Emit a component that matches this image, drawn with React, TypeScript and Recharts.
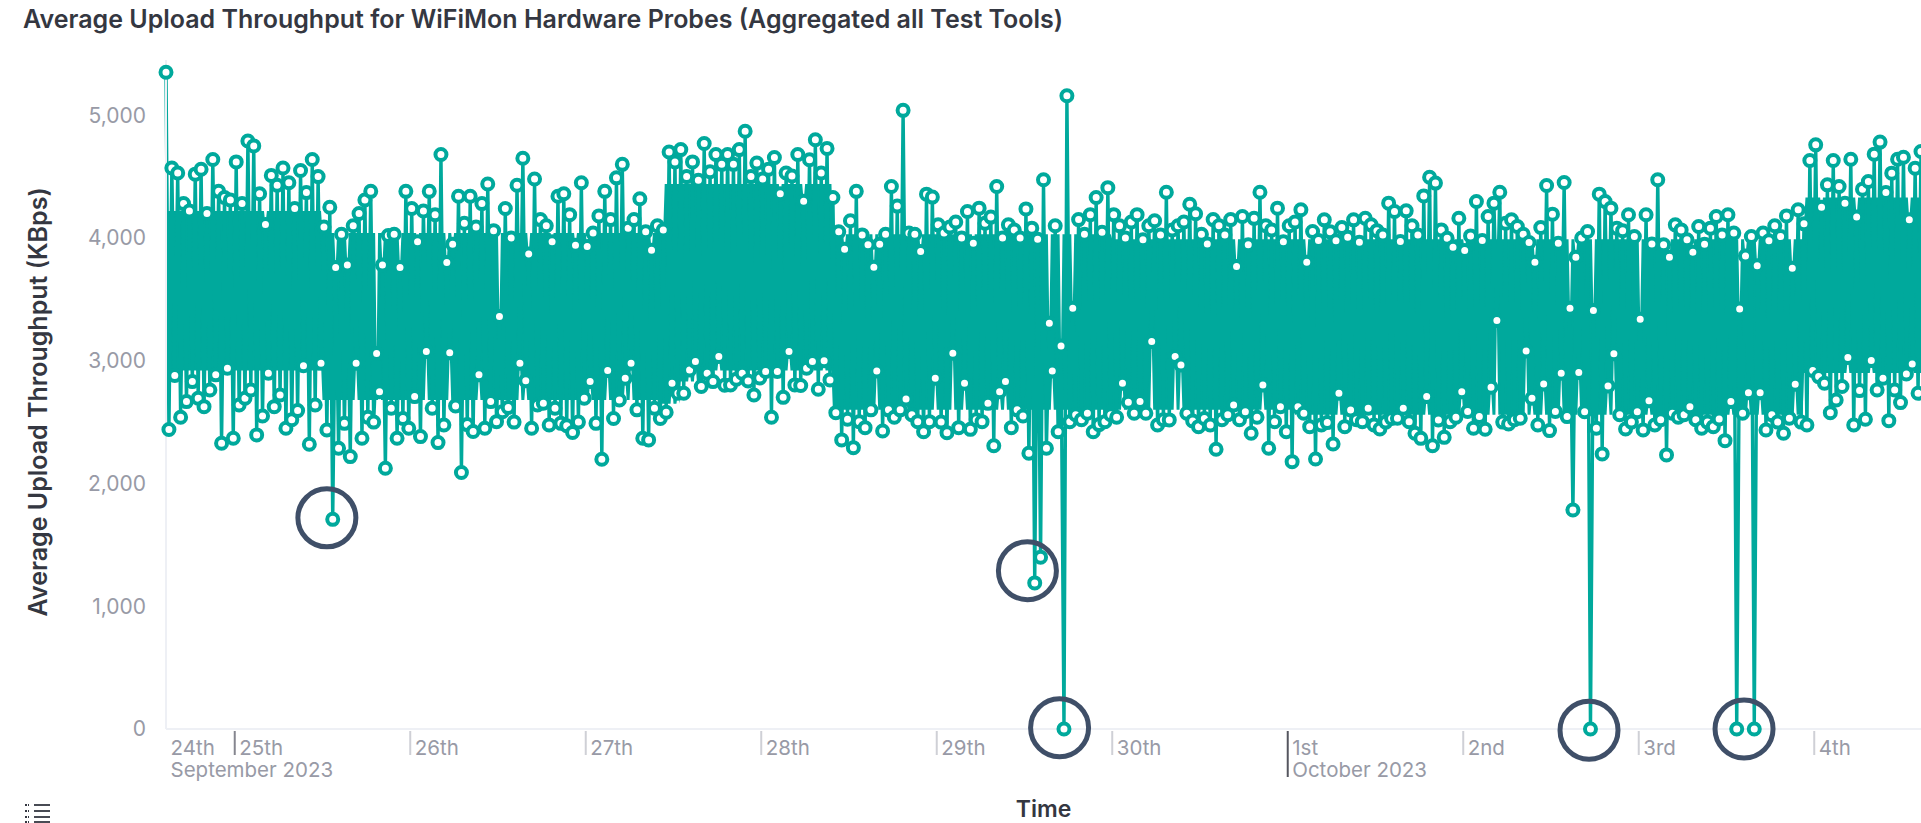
import { Area, ComposedChart, Line, ReferenceDot, XAxis, YAxis } from 'recharts';

const TEAL = '#00a99c';
const GREY = '#989aa6';
const DARK = '#343741';
const FONT = 'Inter, sans-serif';

// hours counted from 25 Sep 2023 00:00, readings alternate peak / dip every 24 min
const firstHour = -9.4;
const lastHour = 230.6;

const peaks = [
  // 24th
  5350, 4570, 4530, 4280, 4220, 4520, 4560, 4200, 4640, 4380, 4330, 4310,
  // 25th
  4620, 4280, 4790, 4750, 4360, 4110, 4510, 4430, 4570, 4450, 4240, 4550, 4370, 4640, 4500,
  4090, 4250, 3760, 4030, 3780, 4100, 4200, 4310, 4380, 3060, 3780, 4020, 4030, 3760, 4380,
  // 26th
  4240, 3970, 4220, 4380, 4190, 4680, 3800, 3950, 4340, 4120, 4340, 4090, 4280, 4440, 4060,
  3360, 4240, 4000, 4430, 4650, 3870, 4480, 4150, 4100, 3970, 4340, 4360, 4190, 3940, 4450,
  // 27th
  3930, 4040, 4180, 4380, 4150, 4490, 4600, 4080, 4150, 4320, 4050, 3900, 4100, 4065, 4700,
  4620, 4720, 4500, 4620, 4470, 4770, 4540, 4680, 4600, 4680, 4600, 4720, 4870, 4500, 4610,
  // 28th
  4480, 4560, 4655, 4360, 4530, 4505, 4680, 4300, 4637, 4800, 4530, 4730, 4330, 4050, 3908,
  4140, 4380, 4025, 3945, 3762, 3950, 4030, 4420, 4260, 5040, 4040, 4030, 3890, 4357, 4333,
  // 29th
  4107, 4040, 4090, 4130, 4000, 4216, 3958, 4243, 4120, 4170, 4420, 4000, 4107, 4065, 4000,
  4237, 4080, 3990, 4474, 3306, 4100, 3120, 5159, 3428, 4150, 4030, 4190, 4330, 4047, 4410,
  // 30th
  4190, 4100, 4000, 4130, 4190, 3985, 4100, 4140, 4025, 4373, 4065, 4100, 4130, 4275, 4197,
  4030, 3952, 4150, 4100, 4025, 4150, 3768, 4175, 3945, 4160, 4373, 4100, 4065, 4243, 3970,
  // 1st
  4100, 4130, 4230, 3803, 4053, 3980, 4148, 4050, 3977, 4085, 4007, 4148, 3966, 4161, 4107,
  4060, 4025, 4284, 4216, 3971, 4221, 4100, 4025, 4343, 4495, 4447, 4066, 3998, 3925, 4161,
  // 2nd
  3898, 4017, 4297, 3980, 4175, 4284, 4373, 4120, 4148, 4094, 4030, 3963, 3803, 4085, 4428,
  4194, 3958, 4452, 3428, 3844, 4000, 4053, 3409, 4357, 4297, 4243, 4080, 4060, 4189, 4012,
  // 3rd
  3338, 4189, 3952, 4474, 3944, 3844, 4107, 4066, 3985, 3884, 4094, 3950, 4080, 4175, 4025,
  4189, 4040, 3422, 3854, 4012, 3773, 4040, 3977, 4100, 4012, 4180, 3754, 4230, 4115, 4631,
  // 4th
  4759, 4251, 4433, 4631, 4420, 4284, 4642, 4170, 4398, 4460, 4683, 4781, 4370, 4528, 4642,
  4658, 4148, 4569, 4705,
];

const dips = [
  // 24th
  2440, 2880, 2540, 2667, 2830, 2694, 2626, 2762, 2885, 2328, 2939, 2369,
  // 25th
  2640, 2694, 2762, 2396, 2550, 2898, 2626, 2721, 2450, 2520, 2594, 2960, 2320, 2640, 2980,
  2436, 1708, 2287, 2490, 2219, 2980, 2369, 2540, 2500, 2748, 2124, 2613, 2369, 2530, 2450,
  // 26th
  2708, 2382, 3075, 2613, 2333, 2477, 3066, 2632, 2089, 2480, 2423, 2885, 2450, 2667, 2504,
  2585, 2620, 2500, 2980, 2838, 2450, 2640, 2654, 2477, 2613, 2490, 2470, 2415, 2500, 2694,
  // 27th
  2830, 2490, 2197, 2920, 2530, 2680, 2857, 2980, 2600, 2369, 2355, 2613, 2530, 2580, 2816,
  2735, 2735, 2925, 2993, 2790, 2898, 2830, 3034, 2800, 2803, 2850, 2898, 2835, 2721, 2860,
  // 28th
  2912, 2540, 2912, 2702, 3075, 2803, 2798, 2939, 2993, 2768, 2999, 2844, 2577, 2355, 2523,
  2292, 2504, 2455, 2600, 2917, 2428, 2600, 2540, 2600, 2689, 2560, 2504, 2422, 2504, 2857,
  // 29th
  2500, 2414, 3061, 2455, 2816, 2441, 2520, 2504, 2653, 2308, 2748, 2830, 2455, 2600, 2550,
  2246, 1190, 1400, 2287, 2917, 2422, 0, 2504, 2560, 2520, 2572, 2422, 2480, 2504, 2560,
  // 30th
  2540, 2816, 2662, 2572, 2667, 2572, 3156, 2477, 2520, 2518, 3034, 2966, 2572, 2510, 2463,
  2530, 2477, 2279, 2520, 2560, 2640, 2520, 2585, 2409, 2540, 2803, 2287, 2504, 2626, 2422,
  // 1st
  2178, 2626, 2572, 2463, 2200, 2477, 2496, 2322, 2735, 2463, 2599, 2520, 2504, 2613, 2477,
  2444, 2500, 2530, 2531, 2613, 2504, 2409, 2368, 2708, 2308, 2518, 2376, 2504, 2540, 2748,
  // 2nd
  2586, 2450, 2545, 2442, 2784, 3327, 2500, 2485, 2520, 2531, 3080, 2694, 2477, 2811, 2431,
  2586, 2898, 2545, 1784, 2904, 2585, 0, 2450, 2241, 2795, 3056, 2560, 2444, 2500, 2585,
  // 3rd
  2436, 2675, 2477, 2520, 2233, 2572, 2540, 2560, 2626, 2520, 2450, 2500, 2463, 2526, 2349,
  2667, 0, 2572, 2740, 0, 2740, 2436, 2560, 2500, 2409, 2531, 2808, 2500, 2477, 2920,
  // 4th
  2871, 2817, 2577, 2680, 2790, 3026, 2477, 2757, 2523, 3001, 2762, 2857, 2512, 2762, 2659,
  2893, 2974, 2735,
];

// where the zigzag reads as one solid block: level changes as [from hour, KBps]
const solidTop = [
  [-9.4, 4220],
  [12, 4040],
  [58.6, 4440],
  [81.7, 4030],
  [120, 3990],
  [214.6, 4330],
];
const solidBottom = [
  [-9.4, 2920],
  [12, 2680],
  [58, 2650],
  [61, 2830],
  [64, 2920],
  [81.7, 2600],
  [145, 2560],
  [214.6, 2900],
];

const yTicks = [0, 1000, 2000, 3000, 4000, 5000];
const dayHours = [firstHour, 0, 24, 48, 72, 96, 120, 144, 168, 192, 216];
const dayLabels = ['24th', '25th', '26th', '27th', '28th', '29th', '30th', '1st', '2nd', '3rd', '4th'];
const monthLabels: Record<string, string> = { '24th': 'September 2023', '1st': 'October 2023' };

// the hand-drawn rings around the outages: [hour, KBps]
const rings = [
  [12.6, 1720],
  [108.4, 1290],
  [112.8, 10],
  [185.2, -10],
  [206.4, 0],
];

const levelAt = (steps: number[][], hour: number) =>
  steps.reduce((level, [from, value]) => (hour >= from ? value : level), steps[0][1]);

// a peak or dip that falls inside the block leaves a thin slit in it
const reading = (hour: number, value: number, isPeak: boolean) => {
  const top = levelAt(solidTop, hour);
  const bottom = levelAt(solidBottom, hour);
  return {
    hour,
    value,
    band: [isPeak ? bottom : Math.max(bottom, value), isPeak ? Math.min(top, value) : top],
  };
};

// block-only row between two readings, it keeps the slits narrow
const filler = (hour: number) => ({
  hour,
  value: null,
  band: [levelAt(solidBottom, hour), levelAt(solidTop, hour)],
});

const rows = peaks.flatMap((value, i) => {
  const hour = firstHour + i * 0.8;
  return i < dips.length
    ? [
        reading(hour, value, true),
        filler(hour + 0.2),
        reading(hour + 0.4, dips[i], false),
        filler(hour + 0.6),
      ]
    : [reading(hour, value, true)];
});

function DayTick({ x, y, index }: any) {
  const label = dayLabels[index];
  const month = monthLabels[label];
  const isFirst = index === 0;
  const isMonthStart = label === '1st';
  return (
    <g>
      {!isFirst && (
        <line
          x1={x}
          x2={x}
          y1={y}
          y2={y + (isMonthStart ? 46 : 24)}
          stroke={isMonthStart ? '#55565f' : label === '25th' ? '#85868f' : '#cfd0d6'}
          strokeWidth={2}
        />
      )}
      <text x={x + 4.5} y={y + 24} fontSize={20.5} fontFamily={FONT} fill={GREY}>
        {label}
      </text>
      {month && (
        <text x={x + 4.5} y={y + 46} fontSize={20.5} fontFamily={FONT} fill={GREY}>
          {month}
        </text>
      )}
    </g>
  );
}

export default function App() {
  return (
    <div style={{ position: 'absolute', left: 0, top: 0, width: 1921, height: 823, overflow: 'hidden', background: '#fff' }}>
      <div
        style={{
          position: 'absolute',
          left: 23,
          top: 4,
          fontFamily: FONT,
          fontSize: 25,
          fontWeight: 600,
          color: DARK,
          whiteSpace: 'nowrap',
        }}
      >
        Average Upload Throughput for WiFiMon Hardware Probes (Aggregated all Test Tools)
      </div>
      <ComposedChart width={1921} height={823} data={rows} margin={{ top: 60, right: 0, bottom: 0, left: 0 }}>
        <XAxis
          dataKey="hour"
          type="number"
          domain={[firstHour, lastHour]}
          ticks={dayHours}
          interval={0}
          height={94}
          tickSize={0}
          tick={<DayTick />}
          axisLine={{ stroke: '#eef0f5', strokeWidth: 2 }}
          label={{ value: 'Time', position: 'insideBottom', dx: 0, dy: -1, fontSize: 23, fontWeight: 600, fontFamily: FONT, fill: DARK }}
        />
        <YAxis
          type="number"
          domain={[0, 5450]}
          ticks={yTicks}
          width={166}
          tickLine={false}
          tickMargin={14}
          tick={{ fontSize: 21, fontFamily: FONT, fill: GREY }}
          tickFormatter={(v: number) => v.toLocaleString('en-US')}
          axisLine={{ stroke: '#eef0f5', strokeWidth: 2 }}
          label={{
            value: 'Average Upload Throughput (KBps)',
            angle: -90,
            position: 'insideLeft',
            dx: 33,
            dy: 222,
            fontSize: 25,
            fontWeight: 600,
            fontFamily: FONT,
            fill: DARK,
          }}
        />
        <Area
          dataKey="band"
          type="linear"
          fill={TEAL}
          fillOpacity={1}
          stroke="none"
          dot={false}
          activeDot={false}
          isAnimationActive={false}
        />
        <Line
          dataKey="value"
          type="linear"
          stroke={TEAL}
          strokeWidth={3.4}
          connectNulls
          dot={{ r: 5.5, fill: '#fff', stroke: TEAL, strokeWidth: 4 }}
          activeDot={false}
          isAnimationActive={false}
        />
        {rings.map(([hour, value]) => (
          <ReferenceDot
            key={hour}
            x={hour}
            y={value}
            r={29}
            fill="none"
            stroke="#3f4f68"
            strokeWidth={5}
            ifOverflow="visible"
          />
        ))}
      </ComposedChart>
      <svg style={{ position: 'absolute', left: 25, top: 802 }} width={28} height={21}>
        {[3, 9, 15, 20].map((y) => (
          <g key={y} stroke={DARK} strokeWidth={1.8}>
            <line x1={0} x2={4} y1={y} y2={y} strokeDasharray="2 1" />
            <line x1={9} x2={25} y1={y} y2={y} />
          </g>
        ))}
      </svg>
    </div>
  );
}
